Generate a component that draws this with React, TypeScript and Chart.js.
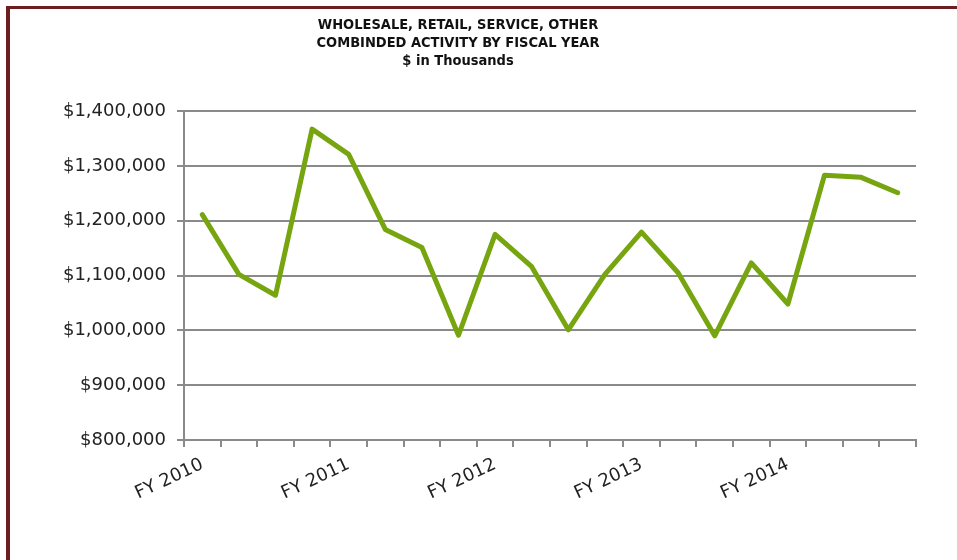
import React, { useEffect, useRef } from "react";
import { Chart, registerables } from "chart.js";

Chart.register(...registerables);

const fiscalYears = ["FY 2010", "FY 2011", "FY 2012", "FY 2013", "FY 2014"];
const quarters = ["Q1", "Q2", "Q3", "Q4"];
const combinedActivity = [
  1211000, 1102000, 1064000, 1367000, 1321000,
  1184000, 1151000, 991000, 1175000, 1116000,
  1001000, 1102000, 1179000, 1105000, 990000,
  1123000, 1048000, 1283000, 1279000, 1251000,
];
const titleLines = [
  "WHOLESALE, RETAIL, SERVICE, OTHER",
  "COMBINDED ACTIVITY BY FISCAL YEAR",
  "$ in Thousands",
];
const yMin = 800000;
const yMax = 1400000;
const yStep = 100000;

const categories = fiscalYears.flatMap((fy) => quarters.map((q) => `${fy} ${q}`));

const GRID = "#8a8a8a";
const LABEL_FONT = "'DejaVu Sans', 'Liberation Sans', sans-serif";

export default function App() {
  const canvasRef = useRef<HTMLCanvasElement | null>(null);

  useEffect(() => {
    const canvas = canvasRef.current;
    if (!canvas) return;
    const chart = new Chart(canvas, {
      type: "line",
      data: {
        labels: categories,
        datasets: [
          {
            label: "Combined Activity",
            data: combinedActivity,
            borderColor: "#76A510",
            borderWidth: 5,
            pointRadius: 0,
            tension: 0,
            borderCapStyle: "round",
            borderJoinStyle: "round",
            fill: false,
          },
        ],
      },
      options: {
        animation: false,
        responsive: false,
        maintainAspectRatio: false,
        layout: { padding: { left: 0, right: 41, top: 0, bottom: 0 } },
        plugins: {
          legend: { display: false },
          tooltip: { enabled: false },
          title: {
            display: true,
            text: titleLines,
            color: "#111",
            font: {
              family: "'DejaVu Sans Condensed', 'Liberation Sans', sans-serif",
              size: 14.5,
              weight: "bold",
              lineHeight: "18px",
            },
            padding: { top: 16, bottom: 41 },
          },
        },
        scales: {
          x: {
            type: "category",
            offset: true,
            grid: {
              offset: true,
              drawOnChartArea: false,
              drawTicks: true,
              tickLength: 7,
              color: GRID,
              lineWidth: 2,
            },
            border: { display: true, color: GRID, width: 2 },
            ticks: {
              autoSkip: false,
              maxRotation: 25,
              minRotation: 25,
              padding: 7,
              color: "#222",
              font: { family: LABEL_FONT, size: 18 },
              callback: (_v: any, i: number) =>
                i % quarters.length === 0 ? fiscalYears[i / quarters.length] : "",
            },
            afterFit: (scale: any) => {
              scale.height = 120;
            },
          },
          y: {
            min: yMin,
            max: yMax,
            grid: {
              color: GRID,
              lineWidth: 2,
              drawTicks: true,
              tickLength: 7,
            },
            border: { display: true, color: GRID, width: 2 },
            ticks: {
              stepSize: yStep,
              padding: 11,
              color: "#222",
              font: { family: LABEL_FONT, size: 18 },
              callback: (v: any) => "$" + Number(v).toLocaleString("en-US"),
            },
            afterFit: (scale: any) => {
              scale.width = 184;
            },
          },
        },
      },
    });
    return () => chart.destroy();
  }, []);

  return (
    <div
      style={{
        position: "absolute",
        left: 0,
        top: 0,
        width: 957,
        height: 560,
        background: "#fff",
        overflow: "hidden",
      }}
    >
      <canvas ref={canvasRef} width={957} height={560} style={{ position: "absolute", left: 0, top: 0 }} />
      <div style={{ position: "absolute", left: 6, top: 6, width: 951, height: 3, background: "#6B1D22" }} />
      <div style={{ position: "absolute", left: 6, top: 6, width: 4, height: 554, background: "#6B1D22" }} />
    </div>
  );
}
